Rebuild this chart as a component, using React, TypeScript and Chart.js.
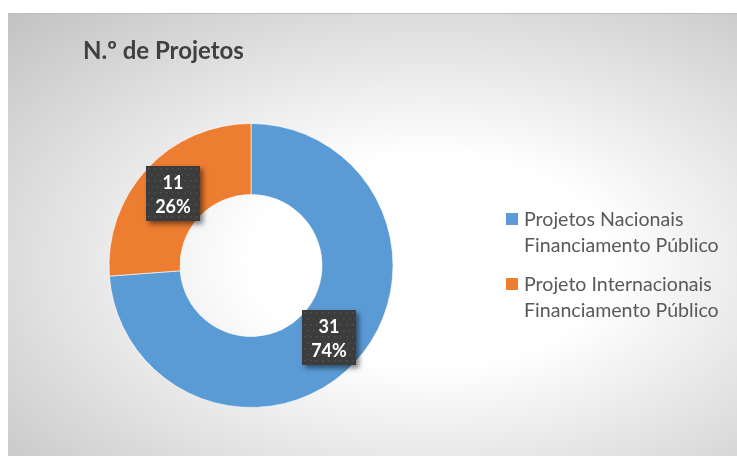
import React, { useEffect, useRef } from "react";
import { Chart, registerables } from "chart.js";
Chart.register(...registerables);

const chartTitle = "N.º de Projetos";
const categories: string[][] = [
  ["Projetos Nacionais", "Financiamento Público"],
  ["Projeto Internacionais", "Financiamento Público"],
];
const values: number[] = [31, 11];
const colors: string[] = ["#5B9BD5", "#ED7D31"];

const FONT = "Lato, 'Open Sans', sans-serif";

export default function App() {
  const ref = useRef<HTMLCanvasElement>(null);

  useEffect(() => {
    const canvas = ref.current!;

    const titlePlugin = {
      id: "customTitle",
      afterDraw(chart: any) {
        const ctx = chart.ctx;
        ctx.save();
        ctx.font = `bold 24px ${FONT}`;
        ctx.fillStyle = "#404040";
        ctx.textAlign = "left";
        ctx.textBaseline = "alphabetic";
        ctx.fillText(chartTitle, 75, 45);
        ctx.restore();
      },
    };

    const legendPlugin = {
      id: "customLegend",
      afterDraw(chart: any) {
        const ctx = chart.ctx;
        const labels = chart.data.labels as string[][];
        const bg = chart.data.datasets[0].backgroundColor as string[];
        ctx.save();
        ctx.font = `19.6px ${FONT}`;
        ctx.textAlign = "left";
        ctx.textBaseline = "alphabetic";
        const x0 = 498;
        const firstBase = 212;
        const lineH = 26;
        const entryH = 65;
        labels.forEach((lines, i) => {
          const base = firstBase + i * entryH;
          ctx.fillStyle = bg[i];
          ctx.fillRect(x0, base - 13, 12, 12);
          ctx.fillStyle = "#595959";
          lines.forEach((t, j) => {
            ctx.fillText(t, x0 + 18, base + j * lineH);
          });
        });
        ctx.restore();
      },
    };

    const boxLabelPlugin = {
      id: "boxLabels",
      afterDatasetsDraw(chart: any) {
        const ctx = chart.ctx;
        const meta = chart.getDatasetMeta(0);
        const data = chart.data.datasets[0].data as number[];
        const total = data.reduce((a, b) => a + b, 0);
        meta.data.forEach((arc: any, i: number) => {
          const p = arc.tooltipPosition(false);
          const w = 54;
          const h = 55;
          const x0 = Math.round(p.x - w / 2);
          const y0 = Math.round(p.y - h / 2);
          ctx.save();
          ctx.shadowColor = "rgba(0,0,0,0.5)";
          ctx.shadowBlur = 5;
          ctx.shadowOffsetX = 3;
          ctx.shadowOffsetY = 3;
          ctx.fillStyle = "#3c3c3c";
          ctx.fillRect(x0, y0, w, h);
          ctx.restore();

          ctx.save();
          ctx.beginPath();
          ctx.rect(x0, y0, w, h);
          ctx.clip();
          ctx.fillStyle = "#525252";
          let row = 0;
          for (let yy = y0 + 2; yy < y0 + h; yy += 6, row++) {
            for (let xx = x0 + 2 + (row % 2) * 3; xx < x0 + w; xx += 6) {
              ctx.fillRect(xx, yy, 1.5, 1.5);
            }
          }
          ctx.restore();

          const pct = Math.round((data[i] / total) * 100);
          const cx = x0 + w / 2;
          const cy = y0 + h / 2;
          ctx.save();
          ctx.font = `bold 18px ${FONT}`;
          ctx.fillStyle = "#ffffff";
          ctx.textAlign = "center";
          ctx.textBaseline = "alphabetic";
          ctx.fillText(String(data[i]), cx, cy - 5);
          ctx.fillText(pct + "%", cx, cy + 19);
          ctx.restore();
        });
      },
    };

    const chart = new Chart(canvas, {
      type: "doughnut",
      data: {
        labels: categories as any,
        datasets: [
          {
            data: values,
            backgroundColor: colors,
            borderColor: "rgba(255,255,255,0.6)",
            borderWidth: 1,
          },
        ],
      },
      options: {
        responsive: false,
        animation: false,
        devicePixelRatio: 1,
        cutout: "50%",
        layout: { padding: { left: 100, right: 343, top: 109, bottom: 48 } },
        plugins: {
          legend: { display: false },
          title: { display: false },
          tooltip: { enabled: false },
        },
      },
      plugins: [boxLabelPlugin, titlePlugin, legendPlugin],
    });
    return () => chart.destroy();
  }, []);

  return (
    <div
      style={{
        position: "fixed",
        left: 8,
        top: 13,
        width: 729,
        height: 443,
        borderTop: "1px solid #bdbdbd",
        boxSizing: "border-box",
        background:
          "radial-gradient(ellipse farthest-corner at 422px 247px, #ffffff 0%, #ffffff 30%, #c2c2c2 100%)",
      }}
    >
      <canvas
        ref={ref}
        width={729}
        height={442}
        style={{ display: "block", width: 729, height: 442 }}
      />
    </div>
  );
}
